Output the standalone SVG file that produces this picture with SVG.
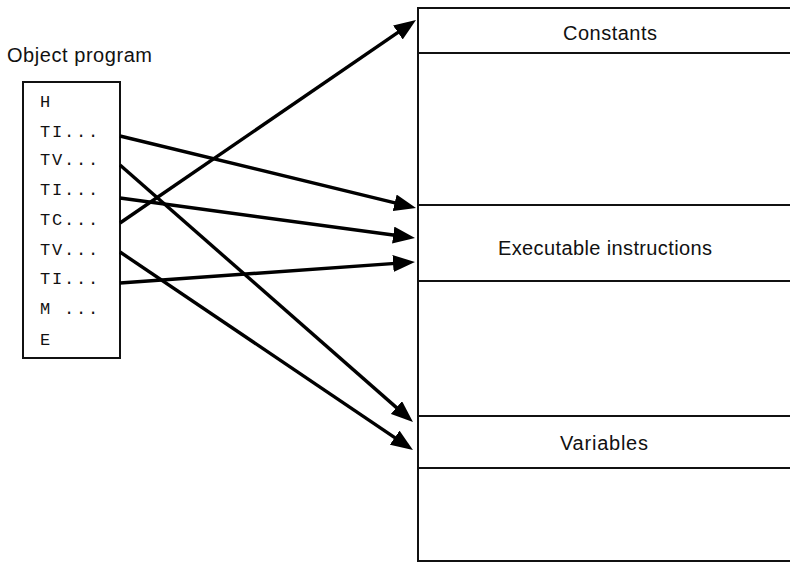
<svg xmlns="http://www.w3.org/2000/svg" width="790" height="562" viewBox="0 0 790 562">
<style>
.sans{font-family:"Liberation Sans",Arial,sans-serif;font-size:20px;fill:#111}
.mono{font-family:"Liberation Mono","Courier New",monospace;font-size:17px;fill:#111;letter-spacing:1.8px}
.box{fill:#fff;stroke:#111;stroke-width:2}
.div{stroke:#111;stroke-width:1.8}
.conn line{stroke:#000;stroke-width:3.4;marker-end:url(#ah)}
</style>
<defs>
<marker id="ah" markerUnits="userSpaceOnUse" viewBox="0 0 22 17" refX="13" refY="8.5" markerWidth="22" markerHeight="17" orient="auto">
<path d="M0,0 L22,8.5 L0,17 Z" fill="#000"/>
</marker>
</defs>
<rect width="790" height="562" fill="#fff"/>
<g id="object-program">
<text class="sans" x="7" y="62" textLength="145">Object program</text>
<rect class="box" x="23" y="82" width="97" height="276"/>
<text class="mono" x="40" y="107">H</text>
<text class="mono" x="40" y="137">TI...</text>
<text class="mono" x="40" y="165">TV...</text>
<text class="mono" x="40" y="195">TI...</text>
<text class="mono" x="40" y="225">TC...</text>
<text class="mono" x="40" y="255">TV...</text>
<text class="mono" x="40" y="284">TI...</text>
<text class="mono" x="40" y="314">M ...</text>
<text class="mono" x="40" y="345">E</text>
</g>
<g id="memory">
<rect class="box" x="418" y="8" width="390" height="553"/>
<line class="div" x1="418" y1="53" x2="790" y2="53"/>
<line class="div" x1="418" y1="205" x2="790" y2="205"/>
<line class="div" x1="418" y1="281" x2="790" y2="281"/>
<line class="div" x1="418" y1="416" x2="790" y2="416"/>
<line class="div" x1="418" y1="468" x2="790" y2="468"/>
</g>
<g id="constants"><text class="sans" x="563" y="40" textLength="94">Constants</text></g>
<g id="executable"><text class="sans" x="498" y="255" textLength="214">Executable instructions</text></g>
<g id="variables"><text class="sans" x="560" y="450" textLength="88">Variables</text></g>
<g class="conn" id="connectors">
<line x1="120" y1="136" x2="407.3" y2="205.9"/>
<line x1="120" y1="165" x2="406.2" y2="416.1"/>
<line x1="120" y1="198" x2="406.1" y2="236.8"/>
<line x1="120" y1="223" x2="408.6" y2="25.1"/>
<line x1="120" y1="252" x2="405.5" y2="444.9"/>
<line x1="120" y1="283" x2="406" y2="262.6"/>
</g>
</svg>
